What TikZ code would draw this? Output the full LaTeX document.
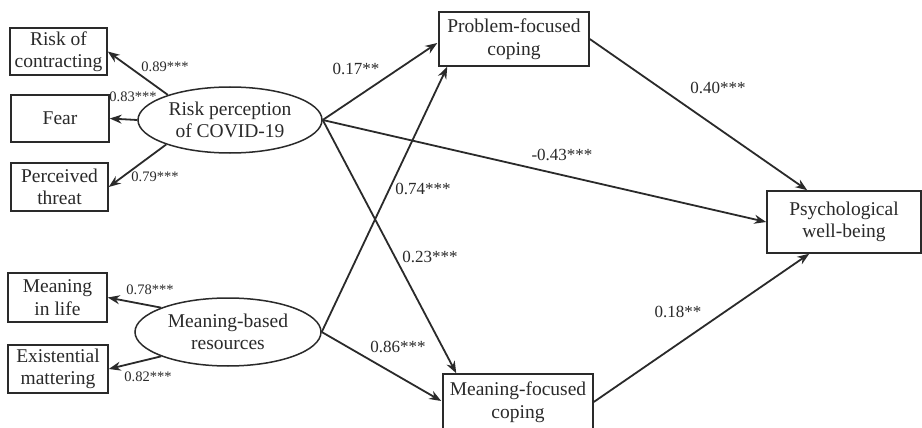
\documentclass[tikz,border=0pt]{standalone}
\usepackage{fontspec}
\setmainfont{Liberation Serif}
\usetikzlibrary{arrows.meta,shapes.geometric,calc}
\definecolor{ink}{HTML}{2A2A2A}
\tikzset{
  every node/.style={text=ink},
  obsbox/.style={draw=ink,line width=1.5pt,rectangle,inner sep=0pt,align=center,
    font=\fontsize{19.5}{22.5}\selectfont},
  latent/.style={draw=ink,line width=1.5pt,ellipse,inner sep=0pt,align=center,
    font=\fontsize{19.5}{22.5}\selectfont},
  path/.style={draw=ink,line width=1.8pt,-{Stealth[length=12pt,width=9pt]}},
  coef/.style={font=\fontsize{17}{18}\selectfont,inner sep=0pt},
  coefsmall/.style={font=\fontsize{14.5}{16}\selectfont,inner sep=0pt}
}
\begin{document}
\begin{tikzpicture}[x=1pt,y=-1pt]
\useasboundingbox[fill=white] (0,0) rectangle (922,428);

% indicators of the two latent variables
\node[obsbox,minimum width=97pt,minimum height=47pt] (rc) at (58.5,51.5) {Risk of\\contracting};
\node[obsbox,minimum width=98pt,minimum height=47pt] (fear) at (60,118.5) {Fear};
\node[obsbox,minimum width=97pt,minimum height=48pt] (pt) at (59.5,187) {Perceived\\threat};
\node[obsbox,minimum width=99pt,minimum height=49pt] (ml) at (57.5,297.5) {Meaning\\in life};
\node[obsbox,minimum width=100pt,minimum height=48pt] (em) at (58,369) {Existential\\mattering};

% latent variables
\node[latent,minimum width=184pt,minimum height=66pt] (rp) at (230,120) {Risk perception\\of COVID-19};
\node[latent,minimum width=186pt,minimum height=68pt] (mb) at (228,332) {Meaning-based\\resources};

% mediators and outcome
\node[obsbox,minimum width=150pt,minimum height=54pt] (pf) at (514,39) {Problem-focused\\coping};
\node[obsbox,minimum width=150pt,minimum height=56pt] (mf) at (518,402) {Meaning-focused\\coping};
\node[obsbox,minimum width=154pt,minimum height=62pt] (pwb) at (844,222) {Psychological\\well-being};

% measurement paths
\draw[path] (rp.158) -- (rc.east);
\draw[path] (rp.west) -- (fear.east);
\draw[path] (rp.201) -- (pt.east);
\draw[path] (mb.160) -- (ml.east);
\draw[path] (mb.200) -- (em.east);

% structural paths
\draw[path] (rp.east) -- ($(pf.west)+(-1,4)$);
\draw[path] (rp.east) -- ($(mf.north west)+(14,0)$);
\draw[path] (rp.east) -- (pwb.west);
\draw[path] (mb.east) -- ($(pf.south west)+(9,0)$);
\draw[path] (mb.east) -- ($(mf.west)+(-1,-1)$);
\draw[path] (pf.east) -- ($(pwb.north west)+(41,0)$);
\draw[path] (mf.east) -- ($(pwb.south west)+(43,0)$);

% loadings
\node[coefsmall] (l1) at (165,67) {0.89***};
\node[coefsmall] (l2) at (133,97) {0.83***};
\node[coefsmall] (l3) at (155,177) {0.79***};
\node[coefsmall] (l4) at (150,290) {0.78***};
\node[coefsmall] (l5) at (148,377) {0.82***};

% path coefficients
\node[coef] (c1) at (356,69) {0.17**};
\node[coef] (c2) at (562,155) {-0.43***};
\node[coef] (c3) at (423,189) {0.74***};
\node[coef] (c4) at (430,257) {0.23***};
\node[coef] (c5) at (398,347) {0.86***};
\node[coef] (c6) at (718,88) {0.40***};
\node[coef] (c7) at (678,312) {0.18**};
\end{tikzpicture}
\end{document}
